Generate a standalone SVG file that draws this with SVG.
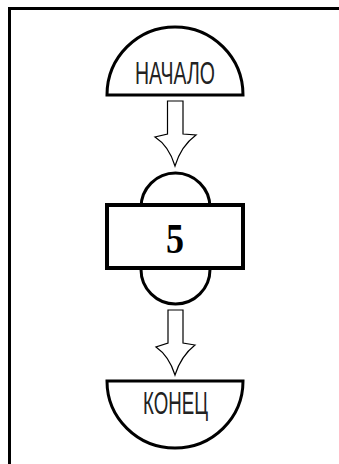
<svg xmlns="http://www.w3.org/2000/svg" width="339" height="464" viewBox="0 0 339 464">
<style>
.frame{fill:none;stroke:#000;stroke-width:3}
.node{fill:#fff;stroke:#000;stroke-width:3}
.box{fill:#fff;stroke:#000;stroke-width:4}
.arrow{fill:#fff;stroke:#000;stroke-width:1.2;stroke-linejoin:miter}
.lbl{font-family:"Liberation Sans","DejaVu Sans",sans-serif;font-size:31px;fill:#222;text-anchor:middle}
.num{font-family:"Liberation Serif","DejaVu Serif",serif;font-size:42px;font-weight:bold;fill:#000;text-anchor:middle}
</style>
<rect class="frame" x="9.5" y="8.5" width="340" height="470"/>
<g id="connectors">
<path class="arrow" d="M167.5,101 L183,101 L183,134 L196,135 Q181,146 175,166 Q169,146 155,137 L167.5,134 Z"/>
<path class="arrow" d="M168,310 L183,310 L183,343 L195,345 Q181,356 175,375 Q169,356 156,347 L168,343 Z"/>
</g>
<g id="start">
<path class="node" d="M107,95 A68,68 0 0 1 243,95 Z"/>
<text class="lbl" x="175" y="84" textLength="80" lengthAdjust="spacingAndGlyphs">НАЧАЛО</text>
</g>
<g id="process">
<rect class="node" x="141" y="173" width="69" height="131" rx="34.5" ry="34.5"/>
<rect class="box" x="107" y="205" width="136" height="63"/>
<text class="num" x="175" y="253" textLength="18" lengthAdjust="spacingAndGlyphs">5</text>
</g>
<g id="end">
<path class="node" d="M107,381 L243,381 A68,67 0 0 1 107,381 Z"/>
<text class="lbl" x="175.5" y="414" textLength="65" lengthAdjust="spacingAndGlyphs">КОНЕЦ</text>
</g>
</svg>
